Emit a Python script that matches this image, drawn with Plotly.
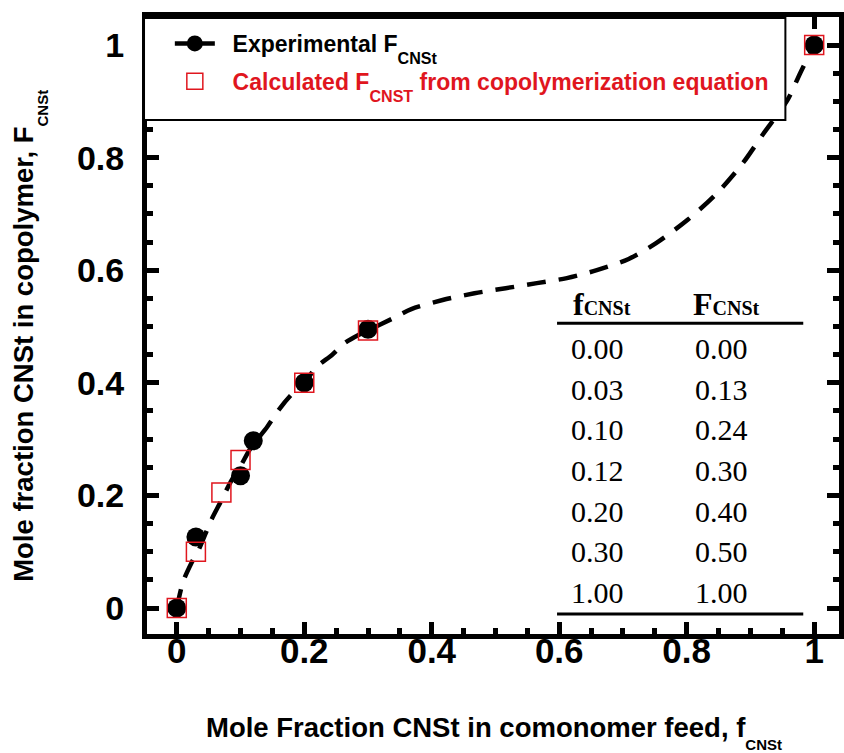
import plotly.graph_objects as go

# ---- data ----
exp_f = [0.00, 0.03, 0.10, 0.12, 0.20, 0.30, 1.00]
exp_F = [0.000, 0.126, 0.235, 0.297, 0.400, 0.495, 1.000]

calc_f = [0.00, 0.03, 0.07, 0.10, 0.20, 0.30, 1.00]
calc_F = [0.000, 0.100, 0.205, 0.263, 0.400, 0.493, 1.000]

curve_f = [0, 0.01, 0.023, 0.035, 0.054, 0.069, 0.085, 0.1, 0.116, 0.142, 0.16, 0.179,
           0.2, 0.22, 0.243, 0.264, 0.285, 0.3, 0.34, 0.368, 0.417, 0.467, 0.516, 0.565,
           0.612, 0.659, 0.709, 0.752, 0.802, 0.846, 0.888, 0.92, 0.958, 0.978, 1.0]
curve_F = [0, 0.047, 0.08, 0.105, 0.156, 0.189, 0.225, 0.252, 0.284, 0.322, 0.352, 0.378,
           0.400, 0.429, 0.449, 0.471, 0.485, 0.493, 0.515, 0.531, 0.547, 0.559, 0.568, 0.577,
           0.586, 0.600, 0.620, 0.648, 0.690, 0.735, 0.790, 0.842, 0.902, 0.950, 1.0]

table_f = ["0.00", "0.03", "0.10", "0.12", "0.20", "0.30", "1.00"]
table_F = ["0.00", "0.13", "0.24", "0.30", "0.40", "0.50", "1.00"]

tick_vals = [0, 0.2, 0.4, 0.6, 0.8, 1.0]
tick_text = ["0", "0.2", "0.4", "0.6", "0.8", "1"]

RED = "#e0161e"
SANS = "Liberation Sans"
SERIF = "Liberation Serif"
DASH = "19px,13px"
NB = "\u00a0\u00a0"

fig = go.Figure()

# legend-only entries
fig.add_trace(go.Scatter(
    x=[None], y=[None], mode="lines+markers", legendgroup="a",
    name=NB + "Experimental F<sub><span style='baseline-shift:-7px'>CNSt</span></sub>",
    line=dict(color="black", width=4.5),
    marker=dict(symbol="circle", size=19, color="black"),
))
fig.add_trace(go.Scatter(
    x=[None], y=[None], mode="markers", legendgroup="b",
    name=NB + "<span style='color:%s'>Calculated F<sub><span style='baseline-shift:-7px'>CNST</span></sub> from copolymerization equation</span>" % RED,
    marker=dict(symbol="square-open", size=19, color=RED, line=dict(width=1.5, color=RED)),
))

# dashed curve
fig.add_trace(go.Scatter(
    x=curve_f, y=curve_F, mode="lines", showlegend=False,
    line=dict(color="black", width=4.5, dash=DASH, shape="spline", smoothing=0.8),
))
# experimental points
fig.add_trace(go.Scatter(
    x=exp_f, y=exp_F, mode="markers", showlegend=False,
    marker=dict(symbol="circle", size=19, color="black"),
))
# calculated points
fig.add_trace(go.Scatter(
    x=calc_f, y=calc_F, mode="markers", showlegend=False,
    marker=dict(symbol="square-open", size=19, color=RED, line=dict(width=1.5, color=RED)),
))

L, R, T, B = 147, 0, 17, 119
W, H = 844, 753
pw, ph = W - L - R, H - T - B

def px_x(px):
    return (px - L) / pw

def px_y(py):
    return (H - B - py) / ph

axis_common = dict(
    showline=True, linewidth=5, linecolor="black", mirror="ticks",
    ticks="inside", ticklen=12, tickwidth=5, tickcolor="black",
    showgrid=False, zeroline=False,
    tickvals=tick_vals, ticktext=tick_text,
    minor=dict(ticks="inside", ticklen=6, tickwidth=5, tickcolor="black", dtick=0.05, showgrid=False),
)

fig.update_xaxes(range=[(147 - 177) / 642, (844 - 177) / 642],
                 tickfont=dict(family=SANS, size=35, color="black", weight="bold"),
                 ticklabelstandoff=-18,
                 **axis_common)
fig.update_yaxes(range=[(608 - 634) / 563, (608 - 17) / 563],
                 tickfont=dict(family=SANS, size=34, color="black", weight="bold"),
                 ticklabelstandoff=11,
                 **axis_common)

annotations = []
# axis titles
annotations.append(dict(
    xref="paper", yref="paper", x=px_x(497), y=px_y(732), xanchor="center", yanchor="middle",
    text="Mole Fraction CNSt in comonomer feed, f<sub><span style='font-size:15px;baseline-shift:-7px'>CNSt</span></sub>",
    showarrow=False, font=dict(family=SANS, size=27.5, color="black", weight="bold"),
))
annotations.append(dict(
    xref="paper", yref="paper", x=px_x(28), y=px_y(336), xanchor="center", yanchor="middle",
    textangle=-90,
    text="Mole fraction CNSt in copolymer, F<sub><span style='font-size:15px;baseline-shift:-9px'>CNSt</span></sub>",
    showarrow=False, font=dict(family=SANS, size=27.5, color="black", weight="bold"),
))

# table
col1_x, col2_x = 0.660, 0.854
hdr1_x, hdr2_x = (605 - 177) / 642, (731 - 177) / 642
row0_y, row_step = (608 - 348.3) / 563, 40.7 / 563
annotations.append(dict(
    x=hdr1_x, y=(608 - 304) / 563, xref="x", yref="y", showarrow=False,
    text="<b>f<span style='font-size:20px'>CNSt</span></b>",
    font=dict(family=SERIF, size=32, color="black"),
))
annotations.append(dict(
    x=hdr2_x, y=(608 - 304) / 563, xref="x", yref="y", showarrow=False,
    text="<b>F<span style='font-size:20px'>CNSt</span></b>",
    font=dict(family=SERIF, size=32, color="black"),
))
for i, (a, b) in enumerate(zip(table_f, table_F)):
    yy = row0_y - i * row_step
    annotations.append(dict(x=col1_x, y=yy, xref="x", yref="y", showarrow=False, text=a,
                            font=dict(family=SERIF, size=30, color="black")))
    annotations.append(dict(x=col2_x, y=yy, xref="x", yref="y", showarrow=False, text=b,
                            font=dict(family=SERIF, size=30, color="black")))

shapes = [
    dict(type="line", xref="x", yref="y", x0=(560 - 177) / 642, x1=(808 - 177) / 642,
         y0=(608 - 323.3) / 563, y1=(608 - 323.3) / 563, line=dict(color="black", width=3)),
    dict(type="line", xref="x", yref="y", x0=(560 - 177) / 642, x1=(808 - 177) / 642,
         y0=(608 - 614) / 563, y1=(608 - 614) / 563, line=dict(color="black", width=3)),
    # legend box
    dict(type="rect", xref="paper", yref="paper", layer="above",
         x0=px_x(144), x1=px_x(790), y0=px_y(120), y1=px_y(18),
         fillcolor="white", line=dict(color="black", width=2)),
]

fig.update_layout(
    width=W, height=H,
    margin=dict(l=L, r=R, t=T, b=B, pad=0),
    paper_bgcolor="white", plot_bgcolor="white",
    showlegend=True,
    legend=dict(
        x=px_x(170), y=px_y(22), xanchor="left", yanchor="top",
        bgcolor="rgba(0,0,0,0)", borderwidth=0,
        font=dict(family=SANS, size=23, color="black", weight="bold"),
        itemwidth=40, tracegroupgap=5,
    ),
    annotations=annotations,
    shapes=shapes,
)

fig.write_html("out.html")
